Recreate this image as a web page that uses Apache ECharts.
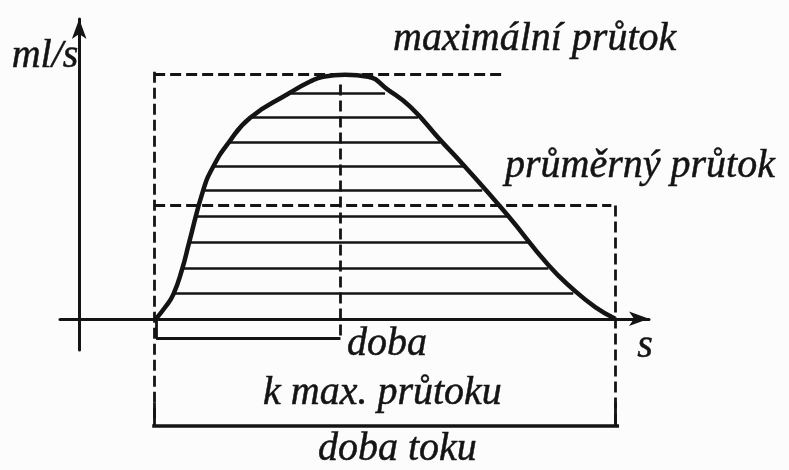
<!DOCTYPE html>
<html>
<head>
<meta charset="utf-8">
<script src="https://cdn.jsdelivr.net/npm/echarts@6/dist/echarts.min.js"></script>
<style>
  html, body { margin: 0; padding: 0; background: #fcfcfd; }
  #chart { width: 789px; height: 470px; }
</style>
</head>
<body>
<div id="chart"></div>
<script>
// flow curve (s, ml/s)
var flowTime = [2.0, 2.24, 2.45, 2.68, 2.86, 3.23, 3.49, 3.88, 4.45, 5.44, 6.01, 6.35, 6.92, 7.52, 8.02, 8.62, 9.4, 9.99, 11.14, 12.21, 12.86, 13.43, 13.95];
var flowRate = [0, 1.2, 2.5, 5.1, 7.8, 13.2, 15.6, 18.0, 20.6, 23.05, 24.3, 24.8, 25.0, 24.8, 23.5, 21.7, 18.3, 15.8, 10.65, 5.5, 3.0, 1.2, 0];

// hatching inside the curve
var hatchLevel = [23.15, 20.6, 18.1, 15.67, 13.2, 10.55, 7.79, 5.22, 2.66];
var hatchFrom = [5.44, 4.45, 3.88, 3.49, 3.25, 3.05, 2.87, 2.68, 2.47];
var hatchTo = [7.96, 8.82, 9.4, 9.99, 10.49, 11.14, 11.74, 12.21, 12.86];

var startTime = 2.0;
var peakTime = 6.8;
var endTime = 13.95;
var maxFlow = 25.0;
var meanFlow = 11.6;

var labels = ['ml/s', 's', 'maximální průtok', 'průměrný průtok', 'doba', 'k max. průtoku', 'doba toku'];

var ink = '#141414';
var mychart = echarts.init(document.getElementById('chart'));

var curve = flowTime.map(function (t, i) { return [t, flowRate[i]]; });
var hatch = hatchLevel.map(function (f, i) {
	return { coords: [[hatchFrom[i], f], [hatchTo[i], f]] };
});

// bracket levels below the axis
var lowBracket = -2;
var timeBracket = -11;

var guides = [
	{ coords: [[startTime - 0.05, maxFlow], [11.0, maxFlow]] },
	{ coords: [[startTime - 0.05, maxFlow + 0.3], [startTime - 0.05, timeBracket]] },
	{ coords: [[peakTime, 24.0], [peakTime, lowBracket]] },
	{ coords: [[startTime - 0.05, meanFlow], [endTime - 0.1, meanFlow]] },
	{ coords: [[endTime, meanFlow], [endTime, timeBracket]] }
];
var brackets = [
	{ coords: [[startTime, 0], [startTime, lowBracket]] },
	{ coords: [[startTime, lowBracket], [peakTime, lowBracket]] },
	{ coords: [[startTime - 0.1, timeBracket], [endTime + 0.1, timeBracket]], lineStyle: { width: 3.5 } },
	{ coords: [[startTime - 0.05, -8.6], [startTime - 0.05, timeBracket]] },
	{ coords: [[endTime, -8.6], [endTime, timeBracket]] }
];

function txt(s, x, y, align) {
	return {
		type: 'text', x: x, y: y, silent: true,
		style: {
			text: s, fill: ink, stroke: ink, lineWidth: 0.5,
			font: 'italic 40px "Liberation Serif"',
			align: align || 'left', verticalAlign: 'middle'
		}
	};
}

var option = {
	animation: false,
	backgroundColor: '#fcfcfd',
	grid: { left: 60, top: 19, right: 140, bottom: 120 },
	xAxis: {
		type: 'value', min: -0.5, max: 14.83,
		axisLine: { show: true, symbol: ['none', 'arrow'], symbolSize: [11, 20], lineStyle: { color: ink, width: 3 } },
		axisTick: { show: false }, axisLabel: { show: false }, splitLine: { show: false }
	},
	yAxis: {
		type: 'value', min: -3.2, max: 30.71,
		axisLine: { show: true, symbol: ['none', 'arrow'], symbolSize: [11, 20], lineStyle: { color: ink, width: 3 } },
		axisTick: { show: false }, axisLabel: { show: false }, splitLine: { show: false }
	},
	series: [
		{
			type: 'lines', coordinateSystem: 'cartesian2d', clip: false, silent: true,
			lineStyle: { color: ink, width: 2.6, opacity: 1 },
			data: hatch
		},
		{
			type: 'lines', coordinateSystem: 'cartesian2d', clip: false, silent: true,
			lineStyle: { color: ink, width: 2.8, opacity: 1, type: [11, 5] },
			data: guides
		},
		{
			type: 'lines', coordinateSystem: 'cartesian2d', clip: false, silent: true,
			lineStyle: { color: ink, width: 2.8, opacity: 1 },
			data: brackets
		},
		{
			type: 'line', data: curve, smooth: 0.5, showSymbol: false, clip: false, silent: true,
			lineStyle: { color: ink, width: 4.5 }
		}
	],
	graphic: [
		txt(labels[0], 45, 56, 'center'),
		txt(labels[1], 645, 346, 'center'),
		txt(labels[2], 393, 39),
		txt(labels[3], 505, 166),
		txt(labels[4], 347, 344),
		txt(labels[5], 263, 393),
		txt(labels[6], 318, 449)
	]
};

mychart.setOption(option);
</script>
</body>
</html>
